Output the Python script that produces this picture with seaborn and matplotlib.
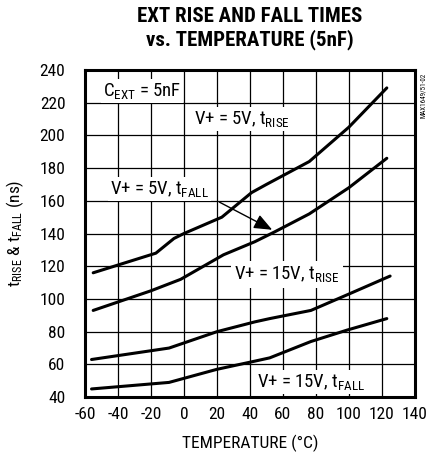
import pandas as pd
import matplotlib
matplotlib.use('Agg')
import matplotlib.pyplot as plt
import seaborn as sns

# curves (temperature in C, time in ns)
rise_5v_t = [-55, -17, -6, 0, 23, 41, 50, 76, 100, 123]
rise_5v = [116, 128, 137, 140, 150, 165, 170, 184, 205, 229]

fall_5v_t = [-55, -20, -2, 24, 43, 55, 76, 100, 123]
fall_5v = [93, 105, 112, 127, 135, 141, 152, 168, 186]

rise_15v_t = [-56, -9, 20, 43, 52, 77, 100, 125]
rise_15v = [63, 70, 80, 86, 88, 93, 103, 114]

fall_15v_t = [-56, -9, 20, 43, 52, 77, 99, 123]
fall_15v = [45, 49, 57, 62, 64, 74, 81, 88]

series = ['5V rise', '5V fall', '15V rise', '15V fall']

frames = []
for name, t, v in zip(series,
                      [rise_5v_t, fall_5v_t, rise_15v_t, fall_15v_t],
                      [rise_5v, fall_5v, rise_15v, fall_15v]):
    frames.append(pd.DataFrame({'temp': t, 'time': v, 'series': name}))
df = pd.concat(frames, ignore_index=True)

sns.set_style('white')
plt.rcParams['font.family'] = ['Roboto Condensed', 'DejaVu Sans']
plt.rcParams['mathtext.fontset'] = 'custom'
plt.rcParams['mathtext.rm'] = 'Roboto Condensed'
plt.rcParams['mathtext.default'] = 'regular'
plt.rcParams['axes.unicode_minus'] = False
plt.rcParams['text.color'] = 'black'
plt.rcParams['axes.labelcolor'] = 'black'

fig = plt.figure(figsize=(4.29, 4.57), dpi=100)
ax = fig.add_axes([0.198, 0.131, 0.769, 0.716])

sns.lineplot(data=df, x='temp', y='time', hue='series', palette=['black'] * 4,
             linewidth=2.2, legend=False, sort=False, ax=ax, zorder=3)

ax.set_xlim(-60, 140)
ax.set_ylim(40, 240)
ax.set_xticks(range(-60, 141, 20))
ax.set_yticks(range(40, 241, 20))
ax.grid(True, color='black', linewidth=0.9)
for s in ax.spines.values():
    s.set_linewidth(2.2)
    s.set_color('black')
ax.tick_params(axis='both', length=0, labelsize=12.5, colors='black')
ax.tick_params(axis='y', pad=14)
ax.tick_params(axis='x', pad=7)

ax.set_xlabel('TEMPERATURE (°C)', fontsize=12.5, labelpad=9)
ax.set_ylabel('t$_{RISE}$ & t$_{FALL}$ (ns)', fontsize=12.5, labelpad=10)

box = dict(facecolor='white', edgecolor='none', pad=1.5)
lab = 13.5
ax.text(-49, 227, 'C$_{EXT}$ = 5nF', fontsize=lab, va='center', ha='left', bbox=box, zorder=4)
ax.text(6, 210, 'V+ = 5V, t$_{RISE}$', fontsize=lab, va='center', ha='left', bbox=box, zorder=4)
ax.text(-45, 167, 'V+ = 5V, t$_{FALL}$', fontsize=lab, va='center', ha='left', bbox=box, zorder=4)
ax.text(30.5, 115, 'V+ = 15V, t$_{RISE}$', fontsize=lab, va='center', ha='left',
        bbox=dict(facecolor='white', edgecolor='none', pad=2.5), zorder=4)
ax.text(44.5, 49, 'V+ = 15V, t$_{FALL}$', fontsize=lab, va='center', ha='left', bbox=box, zorder=4)

# arrow from the 5V fall label to its curve
ax.annotate('', xy=(55, 141.5), xytext=(20, 160),
            arrowprops=dict(arrowstyle='-|>,head_length=1.1,head_width=0.45',
                            color='black', lw=1.0), zorder=5)

fig.text(0.583, 0.985, 'EXT RISE AND FALL TIMES\nvs. TEMPERATURE (5nF)',
         ha='center', va='top', fontsize=15, fontweight='black', linespacing=1.2)
fig.text(0.988, 0.84, 'MAX1649/51-02', rotation=90, fontsize=5,
         ha='center', va='top')

fig.savefig('out.png', dpi=100)
